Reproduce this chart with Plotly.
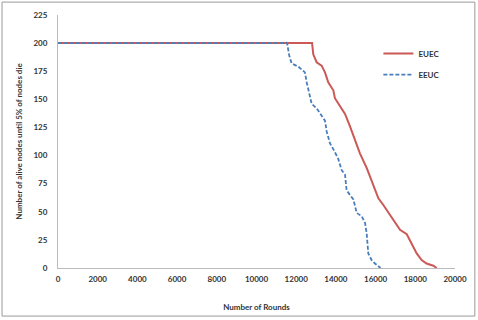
import plotly.graph_objects as go

euec_x = [0, 12800, 12860, 13030, 13280, 13450, 13620, 13870, 13950, 14120, 14460, 14710,
          14960, 15210, 15550, 15800, 16140, 16390, 16730, 16980, 17230, 17570, 17820,
          18070, 18320, 18570, 18910, 19080]
euec_y = [200, 200, 190, 183, 180, 174, 165, 158, 151, 146, 137, 126,
          114, 102, 89, 78, 62, 56, 47, 41, 34, 30, 21,
          13, 7, 4, 2, 0]

eeuc_x = [0, 11300, 11450, 11540, 11650, 11770, 12110, 12440, 12530, 12700, 12780, 13030,
          13280, 13450, 13540, 13700, 13950, 14120, 14290, 14460, 14540, 14710, 14880,
          15050, 15300, 15470, 15550, 15630, 15800, 15970, 16180, 16250]
eeuc_y = [200, 200, 201, 200, 189, 182, 179, 174, 165, 152, 146, 142,
          136, 131, 121, 111, 103, 97, 87, 83, 69, 65, 61,
          49, 46, 40, 31, 13, 7, 4, 1, 0]

x_ticks = list(range(0, 20001, 2000))
y_ticks = list(range(0, 226, 25))

font = dict(family="Lato, 'Open Sans', sans-serif", size=8, color="#333333")

fig = go.Figure()
fig.add_trace(go.Scatter(x=euec_x, y=euec_y, mode="lines", name="<b>EUEC</b>",
                         line=dict(color="#CB5956", width=2), legendgroup="a"))
fig.add_trace(go.Scatter(x=eeuc_x, y=eeuc_y, mode="lines", name="<b>EEUC</b>",
                         line=dict(color="#4A7EBB", width=1.8, dash="4px,2px"), legendgroup="b"))

fig.update_layout(
    width=478, height=320,
    margin=dict(l=58, r=23, t=15, b=52, autoexpand=False),
    paper_bgcolor="white", plot_bgcolor="white",
    font=font,
    showlegend=True,
    legend=dict(x=0.807, y=0.905, xanchor="left", yanchor="top",
                bgcolor="rgba(0,0,0,0)", tracegroupgap=2,
                itemwidth=30, font=dict(family="Lato, sans-serif", size=8, color="#333333")),
    xaxis=dict(range=[0, 20000], tickvals=x_ticks, ticktext=[f"<b>{v}</b>" for v in x_ticks],
               showgrid=False, zeroline=False, showline=True, linecolor="#BBBBBB", linewidth=1,
               ticks="", automargin=False, ticklabelstandoff=3,
               title=dict(text="<b>Number of Rounds</b>", standoff=21, font=dict(size=8))),
    yaxis=dict(range=[0, 225], tickvals=y_ticks, ticktext=[f"<b>{v}</b>" for v in y_ticks],
               showgrid=False, zeroline=False, showline=True, linecolor="#BBBBBB", linewidth=1,
               ticks="", ticklabelstandoff=8, automargin=False,
               title=dict(text="<b>Number of alive nodes until 5% of nodes die</b>", standoff=9,
                          font=dict(size=8))),
    shapes=[dict(type="rect", xref="paper", yref="paper", x0=-0.141, x1=1.050, y0=-0.190, y1=1.051,
                 line=dict(color="#999999", width=1), fillcolor="rgba(0,0,0,0)", layer="above")],
)

fig.write_html("out.html", config={"displayModeBar": False},
               post_script="document.body.style.margin='0';document.body.style.overflow='hidden';")
